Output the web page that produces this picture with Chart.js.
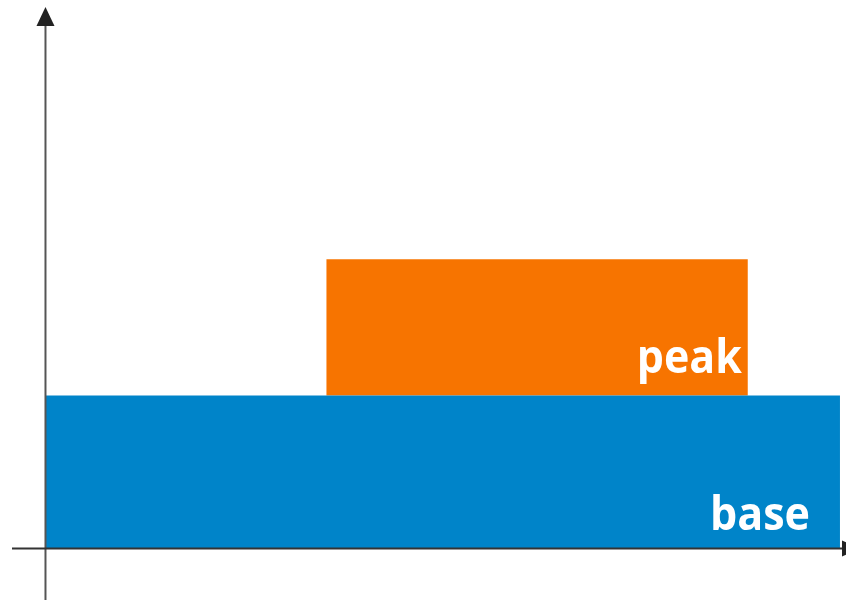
<!DOCTYPE html>
<html>
<head>
<meta charset="utf-8">
<script src="https://cdn.jsdelivr.net/npm/chart.js@4.4.1/dist/chart.umd.min.js"></script>
<style>
  html, body { margin: 0; padding: 0; background: #ffffff; }
  #wrap { width: 846px; height: 600px; }
</style>
</head>
<body>
<div id="wrap"><canvas id="c" width="846" height="600"></canvas></div>
<script>
// ---- data ----
const seriesLabels = ['base', 'peak'];
const levels = [1, 1.89];          // top of each band
const floors = [0, 1];             // bottom of each band
const spanStart = [0, 35.3];       // x start
const spanEnd = [100, 88.4];       // x end
const seriesColors = ['#0084C9', '#F77400'];

const datasets = seriesLabels.map((lab, i) => ({
  label: lab,
  data: [{ x: spanStart[i], y: levels[i] }, { x: spanEnd[i], y: levels[i] }],
  borderWidth: 0,
  borderColor: 'rgba(0,0,0,0)',
  backgroundColor: seriesColors[i],
  pointRadius: 0,
  fill: floors[i] === 0 ? 'origin' : { value: floors[i] },
  tension: 0
}));

const labelPlugin = {
  id: 'bandLabels',
  afterDatasetsDraw(chart, args, opts) {
    const ctx = chart.ctx;
    const xs = chart.scales.x, ys = chart.scales.y;
    ctx.save();
    ctx.fillStyle = '#ffffff';
    ctx.textAlign = 'right';
    ctx.textBaseline = 'alphabetic';
    ctx.font = 'bold 46px "Open Sans", "Liberation Sans", Arial, sans-serif';
    seriesLabels.forEach((lab, i) => {
      const o = opts.offsets[i];
      const right = xs.getPixelForValue(spanEnd[i]) - o.dx;
      const base = ys.getPixelForValue(floors[i]) - o.dy;
      ctx.fillText(lab, right, base, o.w);
    });
    ctx.restore();
  }
};

const axesPlugin = {
  id: 'arrowAxes',
  afterDraw(chart) {
    const ctx = chart.ctx;
    const a = chart.chartArea;
    const x0 = chart.scales.x.getPixelForValue(0) - 0.5;
    const y0 = chart.scales.y.getPixelForValue(0);
    ctx.save();
    ctx.fillStyle = '#222222';
    ctx.lineWidth = 2;
    // y axis
    ctx.strokeStyle = '#555555';
    ctx.beginPath();
    ctx.moveTo(x0, a.bottom);
    ctx.lineTo(x0, a.top + 14);
    ctx.stroke();
    ctx.beginPath();
    ctx.moveTo(x0, a.top);
    ctx.lineTo(x0 - 9, a.top + 19);
    ctx.lineTo(x0 + 9, a.top + 19);
    ctx.closePath();
    ctx.fill();
    // x axis
    ctx.strokeStyle = '#333333';
    ctx.beginPath();
    ctx.moveTo(a.left, y0);
    ctx.lineTo(a.right - 2, y0);
    ctx.stroke();
    ctx.beginPath();
    ctx.moveTo(a.right + 14, y0);
    ctx.lineTo(a.right - 4, y0 - 8);
    ctx.lineTo(a.right - 4, y0 + 8);
    ctx.closePath();
    ctx.fill();
    ctx.restore();
  }
};

new Chart(document.getElementById('c'), {
  type: 'line',
  data: { datasets },
  options: {
    responsive: false,
    animation: false,
    layout: { padding: { left: 12, top: 7, right: 0, bottom: 0 } },
    scales: {
      x: { type: 'linear', min: -4.28, max: 100.76, display: false },
      y: { type: 'linear', min: -0.337, max: 3.539, display: false }
    },
    plugins: {
      legend: { display: false },
      tooltip: { enabled: false },
      bandLabels: { offsets: [ { dx: 30, dy: 18.5, w: 100 }, { dx: 6, dy: 22.5, w: 105 } ] }
    }
  },
  plugins: [labelPlugin, axesPlugin]
});
</script>
</body>
</html>
